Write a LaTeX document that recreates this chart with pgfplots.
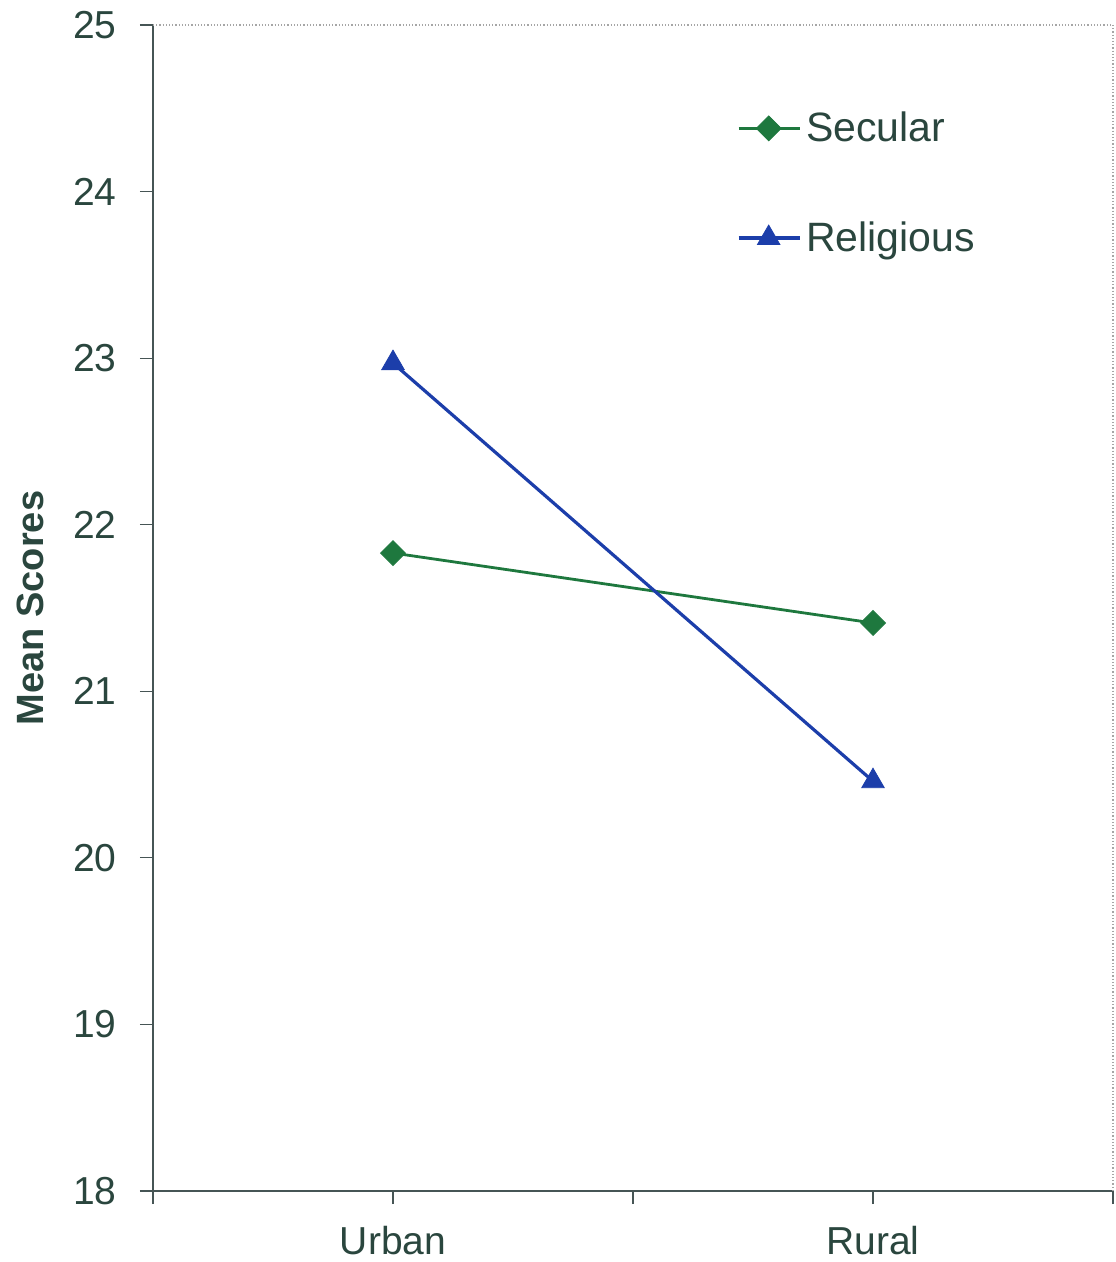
\documentclass[border=0pt]{standalone}
\usepackage{fontspec}
\setmainfont{Liberation Sans}
\usepackage{pgfplots}
\pgfplotsset{compat=1.18}
\definecolor{txt}{RGB}{42,70,62}
\definecolor{secgreen}{RGB}{30,120,62}
\definecolor{relblue}{RGB}{28,62,170}
\definecolor{axgray}{RGB}{70,85,85}
\begin{document}
\begin{tikzpicture}
\begin{axis}[
  at={(0,0)}, anchor=south west,
  scale only axis, width=480pt, height=583pt,
  xmin=0, xmax=2, ymin=18, ymax=25,
  axis x line*=bottom, axis y line*=left,
  axis line style={axgray, line width=1pt},
  tick align=outside, major tick length=6.5pt,
  tick style={axgray, line width=0.6pt},
  xtick={0,0.5,1,1.5,2}, xticklabels={,Urban,,Rural,},
  ytick={18,19,20,21,22,23,24,25},
  /pgf/number format/assume math mode=true,
  ticklabel style={font=\fontsize{19.5}{23}\selectfont, text=txt},
  yticklabel style={inner sep=0pt, xshift=-11.5pt},
  xticklabel style={inner sep=0pt, yshift=-11pt},
  ylabel={Mean Scores},
  ylabel style={at={(axis description cs:-0.128,0.5)}, anchor=center, font=\fontsize{19}{23}\selectfont\bfseries, text=txt},
  legend style={draw=none, fill=none, at={(rel axis cs:0.608,0.93)}, anchor=north west,
    font=\fontsize{20.5}{24}\selectfont, text=txt, row sep=33.5pt, inner sep=0pt,
    nodes={inner sep=2.5pt}},
  legend cell align=left,
  legend image code/.code={\draw[mark repeat=2,mark phase=2,#1] plot coordinates {(0pt,0pt) (15pt,0pt) (30.5pt,0pt)};},
  clip=false,
]
\draw[gray!70, densely dotted, line width=0.6pt] (rel axis cs:0,1) -- (rel axis cs:1,1) -- (rel axis cs:1,0);
\addplot[secgreen, line width=1.4pt, mark=square*, mark size=4.4pt, mark options={rotate=45, fill=secgreen, draw=secgreen, line width=0.4pt}]
  coordinates {(0.5,21.83) (1.5,21.41)};
\addlegendentry{Secular}
\addplot[relblue, line width=1.6pt, mark=triangle*, mark size=6.5pt, mark options={fill=relblue, draw=relblue, line width=0.4pt}]
  coordinates {(0.5,22.97) (1.5,20.46)};
\addlegendentry{Religious}
\end{axis}
\path (-76.5pt,-35.5pt) rectangle (481pt,595.5pt);
\end{tikzpicture}
\end{document}
